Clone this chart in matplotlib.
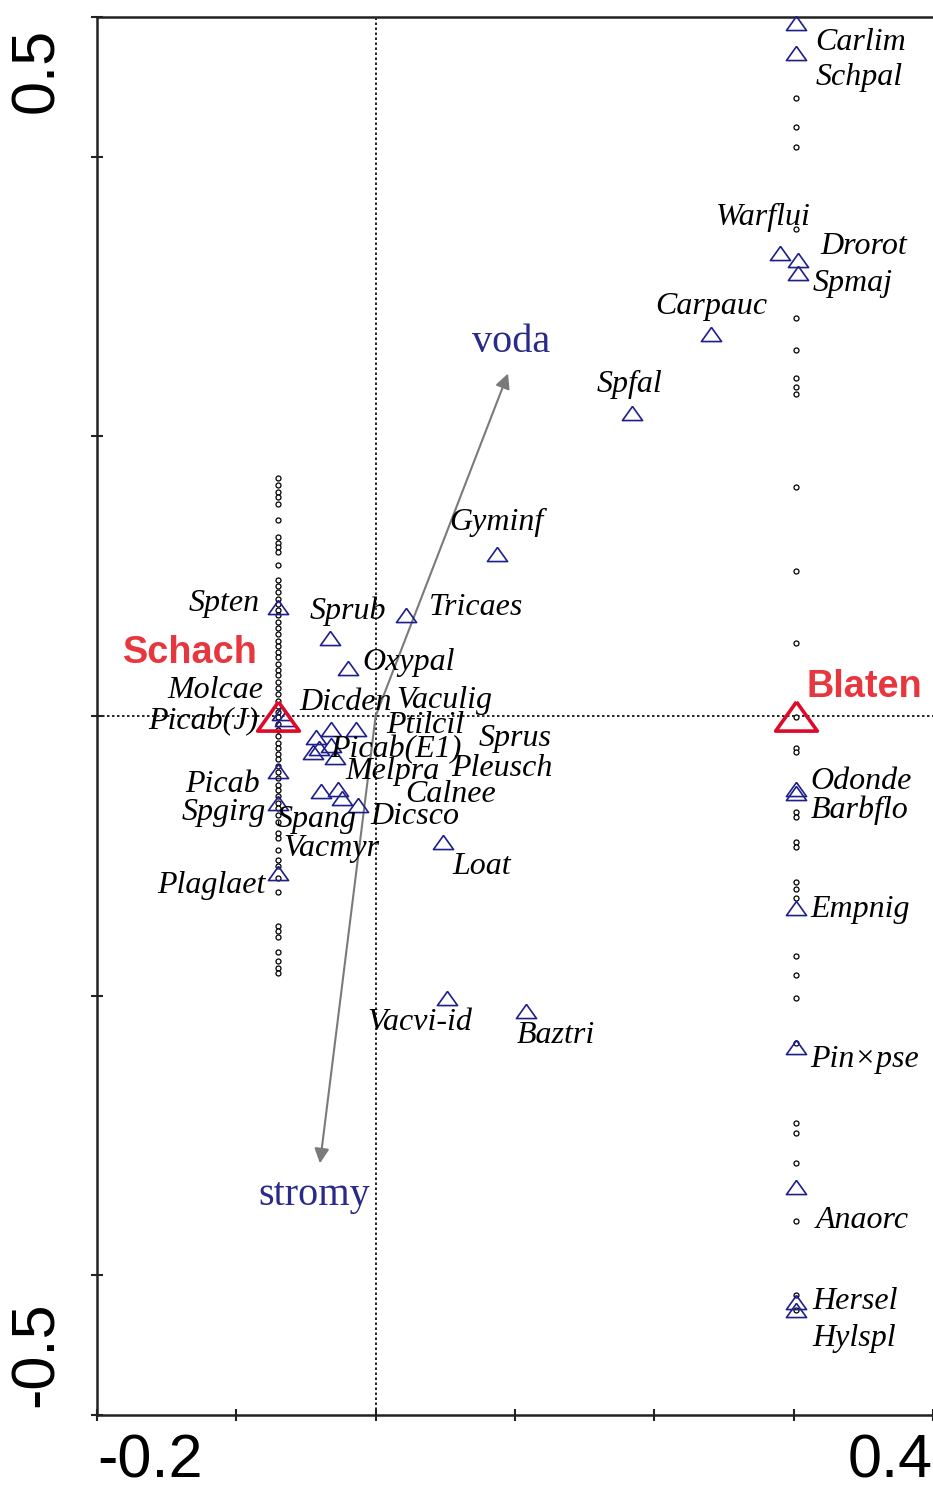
import matplotlib
matplotlib.use("Agg")
import matplotlib.pyplot as plt
from matplotlib.transforms import blended_transform_factory

# ---------------- data ----------------
species = ["Carlim", "Schpal", "Warflui", "Drorot", "Spmaj", "Carpauc", "Spfal", "Gyminf",
           "Spten", "Sprub", "Tricaes", "Oxypal", "Molcae", "Picab(J)", "Dicden", "Vaculig",
           "Ptilcil", "Sprus", "Picab(E1)", "Melpra", "Pleusch", "Calnee", "Picab", "Spgirg",
           "Spang", "Vacmyr", "Dicsco", "Loat", "Plaglaet", "Vacvi-id", "Baztri",
           "Odonde", "Barbflo", "Empnig", "Pin×pse", "Anaorc", "Hersel", "Hylspl"]
sp_x = [0.302, 0.302, 0.290, 0.303, 0.303, 0.241, 0.184, 0.087,
        -0.070, -0.033, 0.022, -0.020, -0.067, -0.065, -0.032, -0.014,
        -0.043, -0.041, -0.029, -0.045, -0.032, -0.027, -0.070, -0.070,
        -0.039, -0.024, -0.013, 0.048, -0.070, 0.051, 0.108,
        0.302, 0.302, 0.302, 0.302, 0.302, 0.302, 0.302]
sp_y = [0.496, 0.474, 0.331, 0.326, 0.317, 0.273, 0.217, 0.116,
        0.078, 0.056, 0.072, 0.034, 0.002, -0.002, -0.009, -0.009,
        -0.015, -0.023, -0.029, -0.026, -0.021, -0.052, -0.039, -0.062,
        -0.054, -0.059, -0.064, -0.090, -0.112, -0.202, -0.211,
        -0.052, -0.055, -0.137, -0.237, -0.337, -0.419, -0.425]

samp_left_x = -0.070
samp_left_y = [0.170, 0.165, 0.160, 0.157, 0.152, 0.140, 0.128, 0.124, 0.121, 0.117,
               0.108, 0.097, 0.093, 0.089, 0.084, 0.080, 0.076, 0.072, 0.067, 0.063,
               0.059, 0.054, 0.050, 0.046, 0.042, 0.037, 0.033, 0.029, 0.024, 0.020,
               0.016, 0.011, 0.007, 0.003, -0.001, -0.006, -0.010, -0.014, -0.019,
               -0.023, -0.027, -0.031, -0.036, -0.040, -0.044, -0.049, -0.053, -0.057,
               -0.062, -0.066, -0.071, -0.076, -0.084, -0.087, -0.096, -0.103, -0.107,
               -0.116, -0.126, -0.150, -0.154, -0.158, -0.169, -0.175, -0.180, -0.184]
samp_right_x = 0.302
samp_right_y = [0.442, 0.421, 0.407, 0.348, 0.285, 0.262, 0.242, 0.235, 0.230, 0.164,
                0.104, 0.052, -0.001, -0.023, -0.026, -0.069, -0.072, -0.090, -0.094,
                -0.119, -0.124, -0.130, -0.172, -0.185, -0.202, -0.234, -0.291, -0.298,
                -0.320, -0.361, -0.414, -0.425]

env_names = ["voda", "stromy"]
env_x = [0.095, -0.040]
env_y = [0.245, -0.320]

cent_names = ["Schach", "Blaten"]
cent_x = [-0.070, 0.302]
cent_y = [0.0, 0.0]

x_ticks = [-0.2, -0.1, 0.0, 0.1, 0.2, 0.3, 0.4]
y_ticks = [-0.5, -0.4, -0.2, 0.0, 0.2, 0.4, 0.5]
x_end_labels = ["-0.2", "0.4"]
y_end_labels = ["-0.5", "0.5"]

# ---------------- layout (label offsets in pixels: dx right, dy down, alignment) ----------------
label_offsets = {
    "Carlim": (19, 20, "left"), "Schpal": (19, 24, "left"), "Warflui": (-64, -36, "left"),
    "Drorot": (23, -14, "left"), "Spmaj": (15, 11, "left"), "Carpauc": (-56, -28, "left"),
    "Spfal": (-35, -28, "left"), "Gyminf": (-48, -31, "left"), "Spten": (-18, -3, "right"),
    "Sprub": (-20, -26, "left"), "Tricaes": (23, -8, "left"), "Oxypal": (15, -6, "left"),
    "Molcae": (-19, -23, "right"), "Picab(J)": (-27, 3, "right"), "Dicden": (-32, -26, "left"),
    "Vaculig": (40, -28, "left"), "Ptilcil": (70, -11, "left"), "Sprus": (160, -10, "left"),
    "Picab(E1)": (-5, -7, "left"), "Melpra": (32, 19, "left"), "Pleusch": (120, 23, "left"),
    "Calnee": (67, 6, "left"), "Picab": (-18, 14, "right"), "Spgirg": (-12, 10, "right"),
    "Spang": (-45, 28, "left"), "Vacmyr": (-59, 50, "left"), "Dicsco": (13, 11, "left"),
    "Loat": (10, 25, "left"), "Plaglaet": (-13, 13, "right"), "Vacvi-id": (-79, 24, "left"),
    "Baztri": (-9, 25, "left"), "Odonde": (14, -7, "left"), "Barbflo": (14, 17, "left"),
    "Empnig": (14, 2, "left"), "Pin×pse": (14, 12, "left"), "Anaorc": (19, 33, "left"),
    "Hersel": (16, 0, "left"), "Hylspl": (16, 28, "left"),
}
env_offsets = {"voda": (3, 31), "stromy": (-6, -32)}
cent_offsets = {"Schach": (-20, 63, "right"), "Blaten": (10, 29, "left")}

NAVY = "#1f1f8c"
RED_TRI = "#dd0a2a"
RED_TXT = "#e8363f"
GRAY = "#7a7a7a"
tri = [(0, 0.7), (-1, -0.7), (1, -0.7), (0, 0.7)]

fig = plt.figure(figsize=(9.33, 14.96), dpi=100)
ax = fig.add_axes([97 / 933, 1 - 1415 / 1496, (933 - 97) / 933, (1415 - 17) / 1496])
ax.set_xlim(-0.2, 0.4)
ax.set_ylim(-0.5, 0.5)

for s in ["left", "bottom", "top"]:
    ax.spines[s].set_linewidth(1.8)
    ax.spines[s].set_color("#222222")
ax.spines["right"].set_visible(False)
ax.set_xticks(x_ticks)
ax.set_yticks(y_ticks)
ax.set_xticklabels([])
ax.set_yticklabels([])
ax.tick_params(direction="inout", length=9, width=1.5, colors="#222222")

# axis zero lines
ax.axhline(0, color="black", lw=1.2, ls=(0, (1.5, 1.5)), zorder=1)
ax.axvline(0, color="black", lw=1.2, ls=(0, (1.5, 1.5)), zorder=1)

# end labels for axes
ax.text(x_ticks[0], -0.513, x_end_labels[0], ha="left", va="top", fontsize=44,
        family="Liberation Sans", clip_on=False)
ax.text(x_ticks[-1], -0.513, x_end_labels[1], ha="right", va="top", fontsize=44,
        family="Liberation Sans", clip_on=False)
bt = blended_transform_factory(ax.transAxes, ax.transData)
ax.text(-0.071, y_ticks[-1] - 0.008, y_end_labels[1], rotation=90, ha="center", va="top",
        fontsize=44, family="Liberation Sans", transform=bt, clip_on=False)
ax.text(-0.071, y_ticks[0] + 0.006, y_end_labels[0], rotation=90, ha="center", va="bottom",
        fontsize=44, family="Liberation Sans", transform=bt, clip_on=False)

# samples
ax.plot([samp_left_x] * len(samp_left_y), samp_left_y, "o", mfc="white", mec="black",
        ms=3.6, mew=0.9, ls="none", zorder=2, clip_on=False)
ax.plot([samp_right_x] * len(samp_right_y), samp_right_y, "o", mfc="white", mec="black",
        ms=3.6, mew=0.9, ls="none", zorder=2, clip_on=False)

# env arrows
for name, ex, ey in zip(env_names, env_x, env_y):
    ax.annotate("", xy=(ex, ey), xytext=(0, 0),
                arrowprops=dict(arrowstyle="-|>", color=GRAY, lw=1.5, mutation_scale=22,
                                shrinkA=0, shrinkB=0), zorder=3)
    dx, dy = env_offsets[name]
    ax.annotate(name, xy=(ex, ey), xytext=(dx, dy), textcoords="offset pixels",
                ha="center", va="center", fontsize=29, family="Liberation Serif",
                color="#2a2a8a", zorder=5)

# species
ax.plot(sp_x, sp_y, marker=tri, mfc="none", mec=NAVY, ms=14.5, mew=1.2, ls="none",
        zorder=4, clip_on=False)
for name, x, y in zip(species, sp_x, sp_y):
    dx, dy, ha = label_offsets[name]
    ax.annotate(name, xy=(x, y), xytext=(dx, -dy), textcoords="offset pixels",
                ha=ha, va="center", fontsize=23, family="Liberation Serif",
                style="italic", color="black", zorder=5)

# centroids
ax.plot(cent_x, cent_y, marker=tri, mfc="none", mec=RED_TRI, ms=30, mew=2.6, ls="none",
        zorder=4, clip_on=False)
for name, x, y in zip(cent_names, cent_x, cent_y):
    dx, dy, ha = cent_offsets[name]
    ax.annotate(name, xy=(x, y), xytext=(dx, dy), textcoords="offset pixels",
                ha=ha, va="center", fontsize=27.3, family="Liberation Sans",
                weight="bold", color=RED_TXT, zorder=5)

fig.savefig("out.png", dpi=100)
